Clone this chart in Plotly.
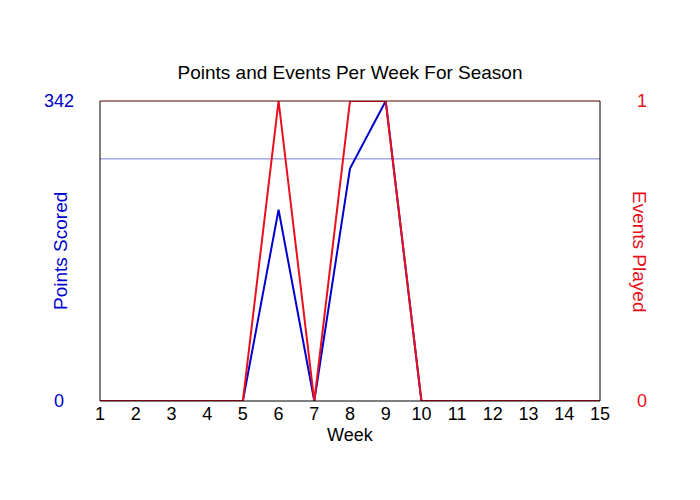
import plotly.graph_objects as go

weeks = list(range(1, 16))
points_scored = [0, 0, 0, 0, 0, 218, 0, 265, 342, 0, 0, 0, 0, 0, 0]
events_played = [0, 0, 0, 0, 0, 1, 0, 1, 1, 0, 0, 0, 0, 0, 0]
reference_points = [276]
left_ticks = [0, 342]
right_ticks = [0, 1]

FONT = "Liberation Sans, Arial, sans-serif"
BLUE = "#0000cc"
RED = "#e8101c"

fig = go.Figure()
fig.add_trace(go.Scatter(x=weeks, y=points_scored, mode="lines",
                         line=dict(color=BLUE, width=2), yaxis="y",
                         showlegend=False, hoverinfo="skip"))
fig.add_trace(go.Scatter(x=weeks, y=events_played, mode="lines",
                         line=dict(color=RED, width=2), yaxis="y2",
                         showlegend=False, hoverinfo="skip"))

for v in reference_points:
    fig.add_shape(type="line", xref="paper", x0=0, x1=1, yref="y", y0=v, y1=v,
                  line=dict(color="#7a7ad8", width=1), layer="below")

# frame
fig.add_shape(type="line", xref="paper", yref="paper", x0=0, x1=1, y0=1, y1=1,
              line=dict(color="#5a0000", width=1))
fig.add_shape(type="line", xref="paper", yref="paper", x0=1, x1=1, y0=0, y1=1,
              line=dict(color="black", width=1))
fig.add_shape(type="line", xref="paper", yref="paper", x0=0, x1=0, y0=0, y1=1,
              line=dict(color="black", width=1))
fig.add_shape(type="line", xref="paper", yref="paper", x0=0, x1=1, y0=0, y1=0,
              line=dict(color="black", width=1))

fig.add_annotation(text="Points Scored", xref="paper", yref="paper", x=-0.08, y=0.5,
                   xanchor="center", yanchor="middle", textangle=-90, showarrow=False,
                   font=dict(color=BLUE, size=19))
fig.add_annotation(text="Events Played", xref="paper", yref="paper", x=1.08, y=0.5,
                   xanchor="center", yanchor="middle", textangle=90, showarrow=False,
                   font=dict(color=RED, size=19))
fig.add_annotation(text="Week", xref="paper", yref="paper", x=0.5, y=-0.114,
                   xanchor="center", yanchor="middle", showarrow=False,
                   font=dict(color="black", size=18))

# centre the left tick labels on one column, as in the reference
left_text = [str(t).center(3, "\u2007") if len(str(t)) < 3 else str(t) for t in left_ticks]

fig.update_layout(
    width=692, height=492,
    margin=dict(l=92, r=100, t=93, b=99, autoexpand=False),
    paper_bgcolor="white", plot_bgcolor="white",
    font=dict(family=FONT, size=16, color="black"),
    title=dict(text="Points and Events Per Week For Season", x=0.5, xref="paper",
               xanchor="center", y=1 - 64 / 492, yanchor="middle",
               font=dict(size=19, color="black")),
    xaxis=dict(range=[1, 15], tickvals=weeks, ticktext=[str(w) for w in weeks],
               showgrid=False, zeroline=False, showline=False, ticks="",
               automargin=False, ticklabelstandoff=0,
               tickfont=dict(size=18)),
    yaxis=dict(range=[0, 342], tickvals=left_ticks, ticktext=left_text,
               showgrid=False, zeroline=False, showline=False, ticks="",
               automargin=False,
               tickfont=dict(color=BLUE, size=18), ticklabelstandoff=25),
    yaxis2=dict(range=[0, 1], tickvals=right_ticks, ticktext=[str(t) for t in right_ticks],
                overlaying="y", side="right", automargin=False,
                showgrid=False, zeroline=False, showline=False, ticks="",
                tickfont=dict(color=RED, size=18), ticklabelstandoff=36),
)

fig.write_html("out.html")
